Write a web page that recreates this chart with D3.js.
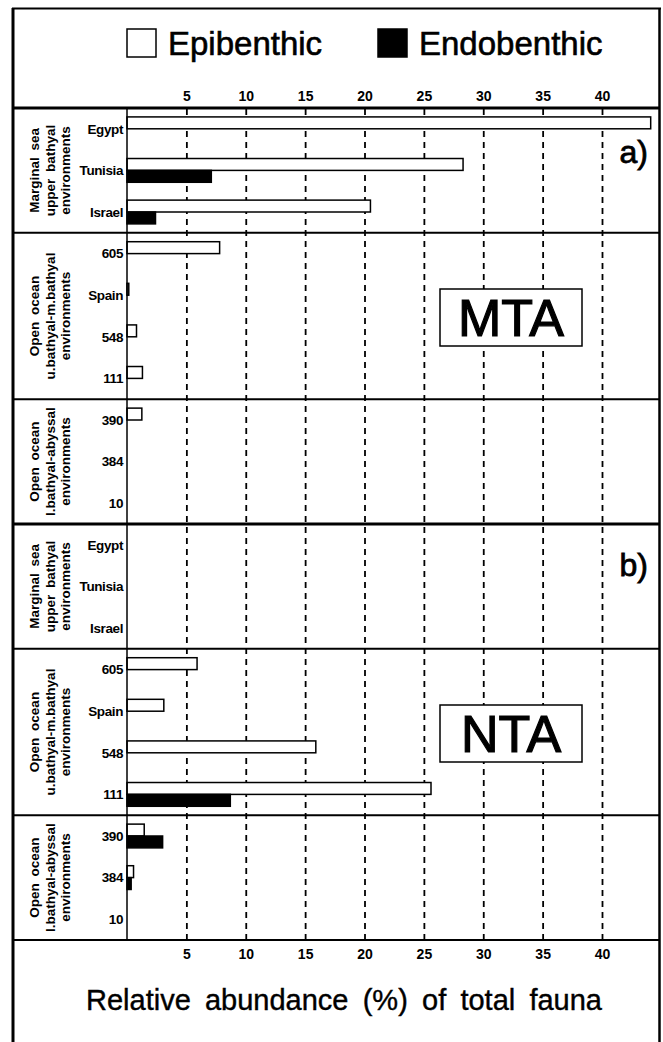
<!DOCTYPE html>
<html>
<head>
<meta charset="utf-8">
<script src="https://cdn.jsdelivr.net/npm/d3@7"></script>
<style>
  body { margin: 0; background: #fff; }
  svg { display: block; font-family: "Liberation Sans", Arial, sans-serif; }
</style>
</head>
<body>
<svg id="chart" width="663" height="1042"></svg>
<script>
// values (% of total fauna)
const series = ["Epibenthic", "Endobenthic"];
const panelNames = ["MTA", "NTA"];
const panelTags = ["a)", "b)"];
const groupLabels = [
    ["Marginal sea", "upper bathyal", "environments"],
    ["Open ocean", "u.bathyal-m.bathyal", "environments"],
    ["Open ocean", "l.bathyal-abyssal", "environments"]
];
const groupSites = [
    ["Egypt", "Tunisia", "Israel"],
    ["605", "Spain", "548", "111"],
    ["390", "384", "10"]
];
// one value per site, in the order of groupSites flattened
const mtaEpi = [44.1, 28.3, 20.5, 7.8, 0.15, 0.8, 1.3, 1.25, 0, 0];
const mtaEndo = [0, 7.1, 2.4, 0, 0, 0, 0, 0, 0, 0];
const ntaEpi = [0, 0, 0, 5.9, 3.1, 15.9, 25.6, 1.45, 0.55, 0];
const ntaEndo = [0, 0, 0, 0, 0, 0, 8.7, 3.0, 0.35, 0];
const xTicks = [5, 10, 15, 20, 25, 30, 35, 40];

const panelValues = [[mtaEpi, mtaEndo], [ntaEpi, ntaEndo]];

const svg = d3.select("#chart");
const plotTop = 108, plotBottom = 940, plotLeft = 127, plotRight = 659;

const sites = groupSites.flat();
const rowKeys = [];
panelNames.forEach(p => sites.forEach(s => rowKeys.push(p + "|" + s)));

const x = d3.scaleLinear().domain([0, 44.8]).range([plotLeft, plotRight]);
const y = d3.scaleBand().domain(rowKeys).range([plotTop, plotBottom]);
const sub = d3.scaleBand().domain(series).range([0, y.bandwidth()])
    .paddingInner(0).paddingOuter(0.75);

// outer frame (bottom edge cut off in the scan)
svg.append("line").attr("x1", 13).attr("x2", 13).attr("y1", 8).attr("y2", 1042)
    .attr("stroke", "#000").attr("stroke-width", 3);
svg.append("line").attr("x1", 659.5).attr("x2", 659.5).attr("y1", 8).attr("y2", 1042)
    .attr("stroke", "#000").attr("stroke-width", 2.5);
svg.append("line").attr("x1", 12).attr("x2", 661).attr("y1", 8.5).attr("y2", 8.5)
    .attr("stroke", "#000").attr("stroke-width", 2);

// legend
const legend = svg.append("g");
const legendX = [127, 378];
series.forEach((s, i) => {
    legend.append("rect")
        .attr("x", legendX[i]).attr("y", 29)
        .attr("width", 29).attr("height", 28)
        .attr("fill", i === 0 ? "#fff" : "#000")
        .attr("stroke", "#000").attr("stroke-width", 1.5);
    legend.append("text")
        .attr("x", legendX[i] + 41).attr("y", 55)
        .attr("font-size", 33)
        .attr("stroke", "#000").attr("stroke-width", 0.6)
        .text(s);
});

// dashed grid lines
svg.append("g")
    .attr("transform", `translate(0,${plotBottom})`)
    .call(d3.axisBottom(x).tickValues(xTicks).tickSize(-(plotBottom - plotTop)).tickFormat(""))
    .call(g => g.select(".domain").remove())
    .call(g => g.selectAll(".tick line")
        .attr("stroke", "#000").attr("stroke-width", 1.8)
        .attr("stroke-dasharray", "6,5"));

// tick labels, top and bottom
svg.append("g")
    .attr("transform", `translate(0,${plotTop})`)
    .call(d3.axisTop(x).tickValues(xTicks).tickSize(0).tickPadding(7))
    .call(g => g.select(".domain").remove())
    .call(g => g.selectAll("text")
        .attr("font-family", "Liberation Sans, Arial, sans-serif")
        .attr("font-size", 14).attr("font-weight", "bold").attr("fill", "#000"));

svg.append("g")
    .attr("transform", `translate(0,${plotBottom})`)
    .call(d3.axisBottom(x).tickValues(xTicks).tickSize(0).tickPadding(9))
    .call(g => g.select(".domain").remove())
    .call(g => g.selectAll("text")
        .attr("font-family", "Liberation Sans, Arial, sans-serif")
        .attr("font-size", 14).attr("font-weight", "bold").attr("fill", "#000"));

// bars
const barData = [];
panelNames.forEach((p, pi) => {
    series.forEach((s, si) => {
        panelValues[pi][si].forEach((v, k) => {
            if (v > 0) barData.push({ key: p + "|" + sites[k], series: s, value: v });
        });
    });
});

svg.append("g").selectAll("rect")
    .data(barData)
    .join("rect")
    .attr("x", x(0))
    .attr("y", d => y(d.key) + sub(d.series))
    .attr("width", d => x(d.value) - x(0))
    .attr("height", sub.bandwidth())
    .attr("fill", d => d.series === "Epibenthic" ? "#fff" : "#000")
    .attr("stroke", "#000")
    .attr("stroke-width", 1.5);

// y axis line
svg.append("line").attr("x1", plotLeft).attr("x2", plotLeft).attr("y1", plotTop).attr("y2", plotBottom)
    .attr("stroke", "#000").attr("stroke-width", 1.5);

// group separators
const seps = [];
panelNames.forEach((p, pi) => {
    groupSites.forEach((g, gi) => {
        seps.push({ y: y(p + "|" + g[0]), w: gi === 0 ? 3 : 2 });
    });
});
seps.push({ y: plotBottom, w: 2 });
svg.append("g").selectAll("line")
    .data(seps)
    .join("line")
    .attr("x1", 12).attr("x2", 660)
    .attr("y1", d => d.y).attr("y2", d => d.y)
    .attr("stroke", "#000").attr("stroke-width", d => d.w);

// site labels
svg.append("g").selectAll("text")
    .data(rowKeys)
    .join("text")
    .attr("x", 123)
    .attr("y", d => y(d) + y.bandwidth() / 2)
    .attr("dy", "0.35em")
    .attr("text-anchor", "end")
    .attr("font-size", 13.5)
    .attr("font-weight", "bold")
    .attr("letter-spacing", -0.4)
    .text(d => d.split("|")[1]);

// group labels (rotated)
const lineX = [34, 50, 65];
panelNames.forEach(p => {
    groupSites.forEach((g, gi) => {
        const y0 = y(p + "|" + g[0]);
        const y1 = y(p + "|" + g[g.length - 1]) + y.bandwidth();
        const cy = (y0 + y1) / 2;
        groupLabels[gi].forEach((line, li) => {
            svg.append("text")
                .attr("transform", `translate(${lineX[li]},${cy}) rotate(-90)`)
                .attr("text-anchor", "middle")
                .attr("dy", "0.35em")
                .attr("font-size", 13.5)
                .attr("font-weight", "bold")
                .attr("word-spacing", 3)
                .text(line);
        });
    });
});

// panel tags and names
panelNames.forEach((p, pi) => {
    const py = y(p + "|" + sites[0]);
    svg.append("text")
        .attr("x", 648).attr("y", py + 55 - pi * 3)
        .attr("text-anchor", "end")
        .attr("font-size", 32)
        .attr("stroke", "#000").attr("stroke-width", 0.8)
        .text(panelTags[pi]);
    svg.append("rect")
        .attr("x", 440).attr("y", py + 181)
        .attr("width", 142).attr("height", 57)
        .attr("fill", "#fff").attr("stroke", "#000").attr("stroke-width", 1.5);
    svg.append("text")
        .attr("x", 511).attr("y", py + 181 + 28.5)
        .attr("dy", "0.36em")
        .attr("text-anchor", "middle")
        .attr("font-size", 52)
        .attr("stroke", "#000").attr("stroke-width", 1.2)
        .text(p);
});

// axis title, stretched with word spacing like the original
const title = svg.append("text")
    .attr("x", 344).attr("y", 1010)
    .attr("text-anchor", "middle")
    .attr("font-size", 29)
    .attr("stroke", "#000").attr("stroke-width", 0.4)
    .text("Relative abundance (%) of total fauna");
const w0 = title.node().getComputedTextLength();
title.attr("word-spacing", Math.max(0, (516 - w0) / 5));
</script>
</body>
</html>
